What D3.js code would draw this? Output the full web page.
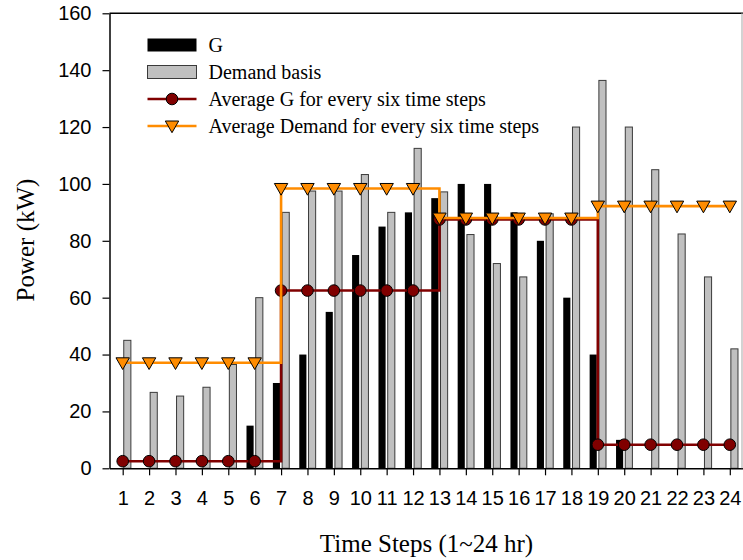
<!DOCTYPE html>
<html>
<head>
<meta charset="utf-8">
<script src="https://cdn.jsdelivr.net/npm/d3@7"></script>
<style>
  body { margin: 0; background: #fff; }
  svg { display: block; }
</style>
</head>
<body>
<div id="chart"></div>
<script>
// Data
const timeSteps = d3.range(1, 25);
const gValues = [0, 0, 0, 0, 0, 15, 30, 40, 55, 75, 85, 90, 95, 100, 100, 90, 80, 60, 40, 10, 0, 0, 0, 0];
const demandValues = [45, 26.7, 25.4, 28.5, 36.5, 60, 90, 97.5, 97.5, 103.3, 90, 112.5, 97.2, 82.2, 72, 67.3, 89.5, 120, 136.4, 120, 105, 82.4, 67.3, 42];
const avgG = [2.5, 62.5, 87.5, 8.3];        // one value per six-step group
const avgDemand = [37.1, 98.4, 88, 92.2];   // one value per six-step group
const yTicks = [0, 20, 40, 60, 80, 100, 120, 140, 160];
const legendLabels = ["G", "Demand basis", "Average G for every six time steps", "Average Demand for every six time steps"];

// Settings
const width = 743;
const height = 560;
const plotLeft = 109.5, plotRight = 743, plotTop = 13.3, plotBottom = 468.3;
const orange = "#ff8c00";
const darkRed = "#800000";
const serif = "'Liberation Serif', 'Times New Roman', serif";
const sans = "'Liberation Sans', Arial, sans-serif";

const svg = d3.select("#chart")
    .append("svg")
    .attr("width", width)
    .attr("height", height);

const x = d3.scaleLinear().domain([0.5, 24.5]).range([plotLeft, plotRight]);
const y = d3.scaleLinear().domain([0, 160]).range([plotBottom, plotTop]);

// Bars G (black, left of tick)
svg.append("g")
    .selectAll("rect")
    .data(timeSteps.filter((t, i) => gValues[i] > 0))
    .join("rect")
    .attr("x", t => x(t - 0.31))
    .attr("width", t => x(t - 0.04) - x(t - 0.31))
    .attr("y", t => y(gValues[t - 1]))
    .attr("height", t => y(0) - y(gValues[t - 1]))
    .attr("fill", "#000");

// Bars Demand (gray, right of tick)
svg.append("g")
    .selectAll("rect")
    .data(timeSteps)
    .join("rect")
    .attr("x", t => x(t + 0.04))
    .attr("width", t => x(t + 0.31) - x(t + 0.04))
    .attr("y", t => y(demandValues[t - 1]))
    .attr("height", t => y(0) - y(demandValues[t - 1]))
    .attr("fill", "#c0c0c0")
    .attr("stroke", "#3a3a3a")
    .attr("stroke-width", 1);

// Axes
const yAxis = svg.append("g")
    .attr("transform", `translate(${plotLeft},0)`)
    .call(d3.axisLeft(y).tickValues(yTicks).tickSize(7).tickSizeOuter(0).tickPadding(11));

const xAxis = svg.append("g")
    .attr("transform", `translate(0,${plotBottom})`)
    .call(d3.axisBottom(x).tickValues(timeSteps).tickFormat(d3.format("d")).tickSize(7).tickSizeOuter(0).tickPadding(16));

[yAxis, xAxis].forEach(a => {
    a.selectAll("text").attr("font-family", sans).attr("font-size", "20px").attr("fill", "#000");
    a.selectAll("line").attr("stroke", "#000").attr("stroke-width", 1.2);
    a.select(".domain").attr("stroke", "#000").attr("stroke-width", 1.5);
});

// Frame top / right
svg.append("line")
    .attr("x1", plotLeft).attr("x2", plotRight).attr("y1", plotTop).attr("y2", plotTop)
    .attr("stroke", "#000").attr("stroke-width", 1.5);
svg.append("line")
    .attr("x1", plotRight - 1).attr("x2", plotRight - 1).attr("y1", plotTop).attr("y2", plotBottom)
    .attr("stroke", "#b5b5b5").attr("stroke-width", 1.2);

// Average lines
const groupOf = t => Math.floor((t - 1) / 6);
const stepLine = vals => d3.line()
    .x(t => x(t))
    .y(t => y(vals[groupOf(t)]))
    .curve(d3.curveStepAfter);

const triangle = "M-6.7,-5L6.7,-5L0,6.7Z";

function drawAverage(vals, color, marker) {
    svg.append("path")
        .datum(timeSteps)
        .attr("fill", "none")
        .attr("stroke", color)
        .attr("stroke-width", 2.6)
        .attr("d", stepLine(vals));
    const g = svg.append("g");
    if (marker === "circle") {
        g.selectAll("circle")
            .data(timeSteps)
            .join("circle")
            .attr("cx", t => x(t))
            .attr("cy", t => y(vals[groupOf(t)]))
            .attr("r", 5.8)
            .attr("fill", darkRed)
            .attr("stroke", "#000")
            .attr("stroke-width", 1);
    } else {
        g.selectAll("path")
            .data(timeSteps)
            .join("path")
            .attr("transform", t => `translate(${x(t)},${y(vals[groupOf(t)])})`)
            .attr("d", triangle)
            .attr("fill", orange)
            .attr("stroke", "#000")
            .attr("stroke-width", 1);
    }
}

drawAverage(avgG, darkRed, "circle");
drawAverage(avgDemand, orange, "triangle");

// Axis titles
svg.append("text")
    .attr("x", 426.5)
    .attr("y", 552)
    .attr("text-anchor", "middle")
    .attr("font-family", serif)
    .attr("font-size", "25px")
    .text("Time Steps (1~24 hr)");

svg.append("text")
    .attr("transform", "translate(34,240) rotate(-90)")
    .attr("text-anchor", "middle")
    .attr("font-family", serif)
    .attr("font-size", "25px")
    .text("Power (kW)");

// Legend
const legend = svg.append("g");
const rowY = i => 45 + i * 27;
legendLabels.forEach((label, i) => {
    const cy = rowY(i);
    if (i === 0) {
        legend.append("rect").attr("x", 147.5).attr("y", cy - 6.5).attr("width", 49).attr("height", 13).attr("fill", "#000");
    } else if (i === 1) {
        legend.append("rect").attr("x", 147.5).attr("y", cy - 6.5).attr("width", 49).attr("height", 13)
            .attr("fill", "#c0c0c0").attr("stroke", "#3a3a3a").attr("stroke-width", 1);
    } else {
        const color = i === 2 ? darkRed : orange;
        legend.append("line").attr("x1", 147.5).attr("x2", 196.5).attr("y1", cy).attr("y2", cy)
            .attr("stroke", color).attr("stroke-width", 2.6);
        if (i === 2) {
            legend.append("circle").attr("cx", 172).attr("cy", cy).attr("r", 5.8)
                .attr("fill", darkRed).attr("stroke", "#000").attr("stroke-width", 1);
        } else {
            legend.append("path").attr("transform", `translate(172,${cy})`).attr("d", triangle)
                .attr("fill", orange).attr("stroke", "#000").attr("stroke-width", 1);
        }
    }
    legend.append("text")
        .attr("x", 208.5)
        .attr("y", cy + 6.8)
        .attr("font-family", serif)
        .attr("font-size", "20px")
        .attr("fill", "#000")
        .text(label);
});
</script>
</body>
</html>
